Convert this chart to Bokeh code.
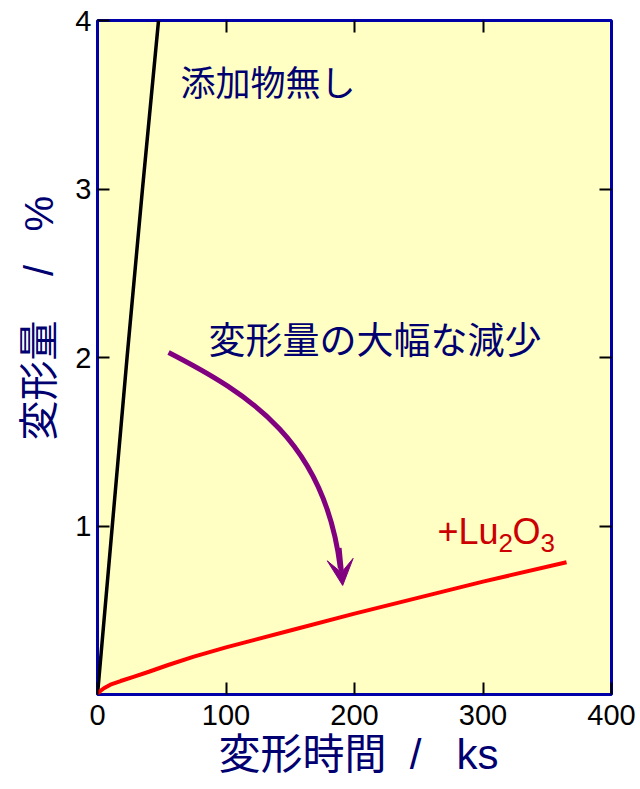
from bokeh.plotting import figure
from bokeh.models import LinearAxis, FixedTicker, Range1d, Arrow, VeeHead, Title
from bokeh.core.properties import value
from bokeh.embed import file_html
from bokeh.resources import INLINE

# creep curves: deformation time (ks) vs strain (%)
plain_time = [0, 11.5, 23, 35, 47.5]
plain_strain = [0, 1, 2, 3, 4]

lu_time = [0, 2, 5, 10, 18, 28, 40, 55, 75, 100, 150, 200, 250, 300, 365]
lu_strain = [0, 0.02, 0.037, 0.058, 0.08, 0.105, 0.135, 0.175, 0.225, 0.28,
             0.38, 0.48, 0.575, 0.67, 0.785]

x_ticks = [0, 100, 200, 300, 400]
y_ticks = [1, 2, 3, 4]

# annotation arrow (bezier path in data units)
arrow_start = (55.3, 2.03)
arrow_ctrl0 = (119.0, 1.78)
arrow_ctrl1 = (177.0, 1.50)
arrow_end = (189.0, 0.75)
arrow_tip = (190.8, 0.647)

NAVY = "#000070"
FRAME = "#0000a8"
PURPLE = "#800080"
CJK = "Noto Sans CJK JP"
LATIN = "Liberation Sans"
MIXED = f"{LATIN}, {CJK}"

p = figure(width=640, height=789, output_backend="svg", toolbar_location=None,
           x_range=Range1d(0, 400), y_range=Range1d(0, 4),
           x_axis_location=None, y_axis_location=None,
           min_border_left=97, min_border_right=29,
           min_border_top=20, min_border_bottom=95)
p.background_fill_color = "#ffffc4"
p.border_fill_color = "white"
p.outline_line_color = FRAME
p.outline_line_width = 3
p.xgrid.visible = False
p.ygrid.visible = False

def style_axis(ax, ticks, labels=True):
    ax.ticker = FixedTicker(ticks=ticks)
    ax.axis_line_color = None
    ax.major_tick_in = 12
    ax.major_tick_out = 0
    ax.major_tick_line_color = "black"
    ax.major_tick_line_width = 2
    ax.minor_tick_line_color = None
    if labels:
        ax.major_label_text_font = LATIN
        ax.major_label_text_font_size = "29px"
        ax.major_label_text_color = "black"
    else:
        ax.major_label_overrides = {t: "" for t in ticks}

xb = LinearAxis()
style_axis(xb, x_ticks)
xb.major_label_standoff = 10
p.add_layout(xb, "below")

yl = LinearAxis()
style_axis(yl, y_ticks)
yl.major_label_standoff = 6
p.add_layout(yl, "left")

xt = LinearAxis()
style_axis(xt, [100, 200, 300], labels=False)
p.add_layout(xt, "above")

yr = LinearAxis()
style_axis(yr, [1, 2, 3], labels=False)
p.add_layout(yr, "right")

# axis titles, placed in the side panels
p.add_layout(Title(text="変形時間\u00a0\u00a0/\u00a0\u00a0\u00a0ks", align="left", offset=121,
                   vertical_align="middle",
                   text_font=MIXED, text_font_size="42px", text_font_style="normal",
                   text_color=NAVY, standoff=4), "below")
p.add_layout(Title(text="変形量\u00a0\u00a0\u00a0\u00a0/\u00a0\u00a0\u00a0%", align="left", offset=254,
                   text_font=MIXED, text_font_size="40px", text_font_style="normal",
                   text_color=NAVY, standoff=24), "left")

# curves
p.line(plain_time, plain_strain, line_color="black", line_width=3.5)
p.line(lu_time, lu_strain, line_color="#ff0000", line_width=4)

# curved arrow
p.bezier(x0=[arrow_start[0]], y0=[arrow_start[1]], x1=[arrow_end[0]], y1=[arrow_end[1]],
         cx0=[arrow_ctrl0[0]], cy0=[arrow_ctrl0[1]], cx1=[arrow_ctrl1[0]], cy1=[arrow_ctrl1[1]],
         line_color=PURPLE, line_width=5)
p.add_layout(Arrow(end=VeeHead(size=26, fill_color=PURPLE, line_color=PURPLE, line_width=1),
                   x_start=arrow_end[0] - 1.0, y_start=arrow_end[1] + 0.12,
                   x_end=arrow_tip[0], y_end=arrow_tip[1],
                   line_color=PURPLE, line_width=5))

# in-plot labels
p.text(x=[64.6], y=[3.644], text=["添加物無し"], text_font=value(CJK),
       text_font_size="35px", text_color=NAVY, text_align="left", text_baseline="middle")
p.text(x=[86.4], y=[2.113], text=["変形量の大幅な減少"], text_font=value(CJK),
       text_font_size="37px", text_color=NAVY, text_align="left", text_baseline="middle")

lu_x, lu_y = 264.5, 0.97
p.text(x=[lu_x] * 4, y=[lu_y] * 4,
       text=["+Lu", "2", "O", "3"],
       x_offset=[0, 61, 75, 103], y_offset=[0, 12, 0, 12],
       text_font_size=["36px", "26px", "36px", "26px"],
       text_font=value(LATIN), text_color="#cc0000",
       text_align="left", text_baseline="alphabetic")

open("out.html", "w").write(file_html(p, INLINE))
